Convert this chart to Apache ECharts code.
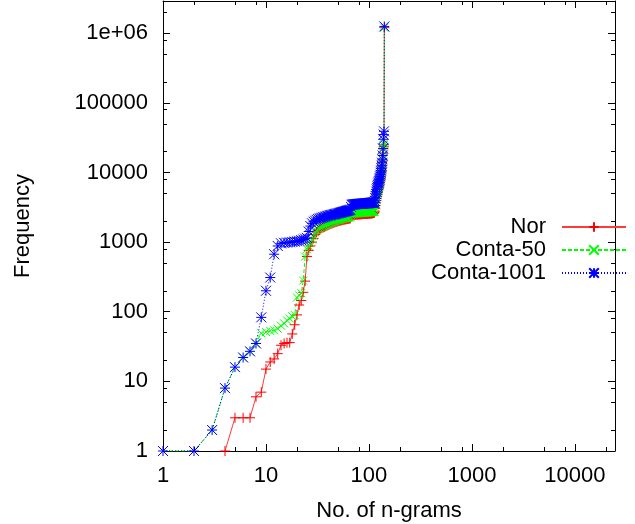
<!DOCTYPE html>
<html>
<head>
<meta charset="utf-8">
<script src="https://cdn.jsdelivr.net/npm/echarts@6/dist/echarts.min.js"></script>
<style>
  html, body { margin: 0; padding: 0; background: #fff; }
  #chart { width: 635px; height: 524px; }
</style>
</head>
<body>
<div id="chart"></div>
<script>
// ---- data ----
const seriesNames = ['Nor', 'Conta-50', 'Conta-1001'];

// rank (x) is simply the position 1..141 of each value in the arrays below
const norValues = [
  null, null, null, 1, 3, 3, 3, 6, 7, 15,
  19, 21, 25, 33, 35, 36, 36, 48, 65, 90,
  125, 145, 190, 275, 620, 760, 880, 1000, 1130, 1280,
  1390, 1460, 1510, 1560, 1600, 1630, 1660, 1690, 1720, 1750,
  1780, 1810, 1840, 1860, 1890, 1910, 1930, 1950, 1970, 1990,
  2010, 2025, 2040, 2055, 2070, 2085, 2100, 2110, 2120, 2130,
  2140, 2150, 2160, 2170, 2180, 2200, 2340, 2430, 2450, 2460,
  2465, 2470, 2475, 2480, 2485, 2490, 2490, 2495, 2500, 2500,
  2505, 2510, 2510, 2515, 2520, 2520, 2525, 2530, 2530, 2535,
  2540, 2540, 2545, 2550, 2550, 2555, 2560, 2560, 2565, 2570,
  2570, 2575, 2580, 2580, 2585, 2590, 2590, 2595, 2600, 2610,
  2620, 2630, 2650, 2780, 3050, 3350, 3650, 3950, 4250, 4550,
  4850, 5150, 5450, 5750, 6050, 6400, 6800, 7200, 7700, 8200,
  8800, 9500, 10300, 11300, 12700, 14600, 19000, 22000, 23500, 25000,
  1200000
];

const conta50Values = [
  1, 1, 2, 8, 16, 22, 27, 35, 49, 51,
  53, 54, 57, 63, 68, 75, 80, 86, 90, 160,
  172, 185, 280, 620, 790, 880, 980, 1090, 1230, 1370,
  1470, 1530, 1580, 1630, 1670, 1700, 1730, 1760, 1790, 1820,
  1850, 1880, 1910, 1940, 1970, 2000, 2020, 2040, 2060, 2080,
  2100, 2115, 2130, 2145, 2160, 2175, 2190, 2200, 2210, 2220,
  2230, 2240, 2250, 2260, 2270, 2300, 2450, 2540, 2560, 2570,
  2575, 2580, 2585, 2590, 2595, 2600, 2600, 2605, 2610, 2610,
  2615, 2620, 2620, 2625, 2630, 2630, 2635, 2640, 2640, 2645,
  2650, 2650, 2655, 2660, 2660, 2665, 2670, 2670, 2675, 2680,
  2680, 2685, 2690, 2690, 2695, 2700, 2700, 2705, 2710, 2720,
  2730, 2740, 2760, 2900, 3200, 3500, 3800, 4100, 4400, 4700,
  5000, 5300, 5600, 5900, 6200, 6600, 7000, 7400, 7900, 8400,
  9000, 9700, 10500, 11500, 13000, 15000, 20000, 23000, 24500, 26000,
  1200000
];

const conta1001Values = [
  1, 1, 2, 8, 16, 22, 27, 35, 83, 200,
  310, 670, 880, 960, 975, 985, 995, 1005, 1015, 1030,
  1045, 1065, 1090, 1120, 1150, 1420, 1700, 1860, 1960, 2030,
  2090, 2140, 2180, 2210, 2240, 2270, 2300, 2330, 2360, 2390,
  2410, 2430, 2450, 2470, 2490, 2510, 2530, 2550, 2570, 2590,
  2610, 2630, 2650, 2670, 2690, 2710, 2730, 2750, 2770, 2790,
  2810, 2830, 2850, 2870, 2890, 2920, 3200, 3420, 3450, 3470,
  3480, 3490, 3500, 3510, 3510, 3520, 3520, 3530, 3530, 3540,
  3540, 3550, 3550, 3560, 3560, 3570, 3570, 3580, 3580, 3590,
  3590, 3600, 3600, 3610, 3610, 3620, 3620, 3630, 3630, 3640,
  3640, 3650, 3650, 3660, 3660, 3670, 3670, 3680, 3690, 3700,
  3710, 3720, 3740, 3900, 4300, 4600, 4900, 5300, 5700, 6000,
  6300, 6600, 6900, 7200, 7500, 7900, 8300, 8800, 9300, 9900,
  10600, 11500, 12500, 13800, 15500, 17500, 22000, 30000, 35000, 39000,
  1250000
];

const xTickLabels = ['1', '10', '100', '1000', '10000'];
const yTickLabels = ['1', '10', '100', '1000', '10000', '100000', '1e+06'];
const xMinorTicks = [2, 5, 8, 20, 50, 80, 200, 500, 800, 2000, 5000, 8000, 20000];
const yMinorTicks = [2, 5, 8, 20, 50, 80, 200, 500, 800, 2000, 5000, 8000,
                     20000, 50000, 80000, 200000, 500000, 800000, 2000000];

const X_MIN = 1, X_MAX = 24500, Y_MIN = 1, Y_MAX = 2900000;

// ---- build chart ----
const toPairs = (vals) => vals.map((v, i) => [i + 1, v]);

const FONT = 'Liberation Sans, Arial, sans-serif';
const lineBlack = { show: true, lineStyle: { color: '#000', width: 1 } };

function labelFromArray(arr) {
  return function (v) {
    const idx = Math.round(Math.log10(v));
    return arr[idx] !== undefined ? arr[idx] : '';
  };
}

function xAx(position, minor, withLabels) {
  const a = {
    type: 'log', min: X_MIN, max: X_MAX, position: position,
    axisLine: minor ? { show: false } : lineBlack,
    axisTick: { show: true, inside: true, length: minor ? 4 : 7,
                lineStyle: { color: '#000', width: 1 } },
    axisLabel: { show: false },
    splitLine: { show: false },
    minorTick: { show: false },
    silent: true
  };
  if (minor) a.axisTick.customValues = xMinorTicks;
  if (withLabels) {
    a.axisLabel = {
      show: true, margin: 14, color: '#000', fontSize: 22, fontFamily: FONT,
      showMaxLabel: false, showMinLabel: true,
      formatter: labelFromArray(xTickLabels)
    };
    a.name = 'No. of n-grams';
    a.nameLocation = 'middle';
    a.nameGap = 49;
    a.nameTextStyle = { color: '#000', fontSize: 22, fontFamily: FONT };
  }
  return a;
}

function yAx(position, minor, withLabels) {
  const a = {
    type: 'log', min: Y_MIN, max: Y_MAX, position: position,
    axisLine: minor ? { show: false } : lineBlack,
    axisTick: { show: true, inside: true, length: minor ? 4 : 7,
                lineStyle: { color: '#000', width: 1 } },
    axisLabel: { show: false },
    splitLine: { show: false },
    minorTick: { show: false },
    silent: true
  };
  if (minor) a.axisTick.customValues = yMinorTicks;
  if (withLabels) {
    a.axisLabel = {
      show: true, margin: 15, color: '#000', fontSize: 22, fontFamily: FONT,
      showMaxLabel: false, showMinLabel: true,
      formatter: labelFromArray(yTickLabels)
    };
    a.name = 'Frequency';
    a.nameLocation = 'middle';
    a.nameGap = 129;
    a.nameTextStyle = { color: '#000', fontSize: 22, fontFamily: FONT };
  }
  return a;
}

const PLUS = 'path://M0,5L10,5M5,0L5,10';
const CROSS = 'path://M0,0L10,10M10,0L0,10';
const STAR = 'path://M0,5L10,5M5,0L5,10M0,0L10,10M10,0L0,10';

function lineSeries(name, values, color, lineColor, symbol, size, lineType) {
  return {
    name: name,
    type: 'line',
    xAxisIndex: 0, yAxisIndex: 0,
    data: toPairs(values),
    symbol: symbol,
    symbolSize: size,
    showSymbol: true,
    showAllSymbol: true,
    connectNulls: false,
    clip: true,
    itemStyle: { color: color, borderColor: color, borderWidth: 1 },
    lineStyle: { color: lineColor, width: 1, type: lineType },
    emphasis: { disabled: true },
    silent: true,
    animation: false
  };
}

const chart = echarts.init(document.getElementById('chart'), null, { renderer: 'canvas' });
chart.setOption({
  animation: false,
  backgroundColor: '#fff',
  grid: { left: 163, right: 20, top: 1, bottom: 73, containLabel: false, outerBoundsMode: 'none' },
  xAxis: [xAx('bottom', false, true), xAx('bottom', true, false), xAx('top', false, false), xAx('top', true, false)],
  yAxis: [yAx('left', false, true), yAx('left', true, false), yAx('right', false, false), yAx('right', true, false)],
  legend: {
    data: seriesNames,
    orient: 'vertical',
    right: 8,
    top: 216,
    padding: 0,
    align: 'right',
    itemWidth: 64,
    itemHeight: 12,
    itemGap: 1,
    selectedMode: false,
    textStyle: { color: '#000', fontSize: 22, fontFamily: FONT, lineHeight: 22, padding: [0, 11, 0, 0] }
  },
  series: [
    lineSeries(seriesNames[0], norValues, '#ff0000', '#ff3a3a', PLUS, 10, 'solid'),
    lineSeries(seriesNames[1], conta50Values, '#00ff00', '#00ff00', CROSS, 8, [4, 2]),
    lineSeries(seriesNames[2], conta1001Values, '#0000ff', '#0000ff', STAR, 10, [1, 2])
  ]
});
</script>
</body>
</html>
